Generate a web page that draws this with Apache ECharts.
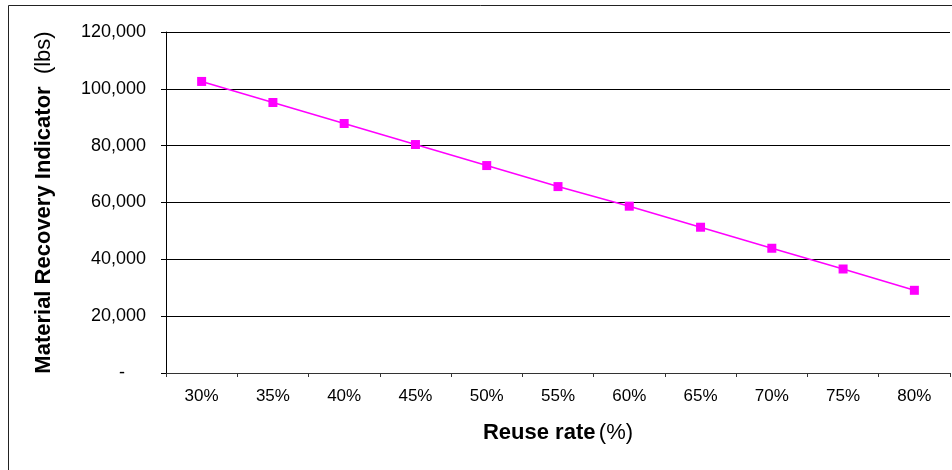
<!DOCTYPE html>
<html>
<head>
<meta charset="utf-8">
<script src="https://cdn.jsdelivr.net/npm/echarts@6/dist/echarts.min.js"></script>
<style>
html,body{margin:0;padding:0;background:#fff;}
#c{width:952px;height:470px;}
</style>
</head>
<body>
<div id="c"></div>
<script>
var categories = ['30%','35%','40%','45%','50%','55%','60%','65%','70%','75%','80%'];
var recovery = [102600, 95200, 87800, 80400, 73000, 65600, 58700, 51300, 43900, 36600, 29100];
var yTicks = [0, 20000, 40000, 60000, 80000, 100000, 120000];

var FONT = 'Arial, "Liberation Sans", sans-serif';
var chart = echarts.init(document.getElementById('c'), null, {renderer: 'canvas'});
chart.setOption({
  animation: false,
  backgroundColor: '#fff',
  graphic: [{
    type: 'rect', silent: true,
    shape: {x: 8.5, y: 5.5, width: 1000, height: 1000},
    style: {fill: 'none', stroke: '#222', lineWidth: 1}
  }],
  grid: {left: 166, top: 32, width: 784, height: 341, containLabel: false},
  xAxis: {
    type: 'category',
    data: categories,
    boundaryGap: true,
    name: '{b|Reuse rate} {n|(%)}',
    nameLocation: 'middle',
    nameGap: 49,
    nameTextStyle: {
      rich: {
        b: {fontFamily: FONT, fontSize: 22, fontWeight: 'bold', color: '#000'},
        n: {fontFamily: FONT, fontSize: 22, color: '#000'}
      }
    },
    axisLine: {lineStyle: {color: '#333', width: 1}},
    axisTick: {show: true, length: 4, lineStyle: {color: '#333'}},
    axisLabel: {fontFamily: FONT, fontSize: 17, color: '#000', margin: 15},
    splitLine: {show: false}
  },
  yAxis: {
    type: 'value',
    min: yTicks[0],
    max: yTicks[yTicks.length - 1],
    interval: yTicks[1] - yTicks[0],
    name: '{b|Material Recovery Indicator}{n|  (lbs)}',
    nameLocation: 'middle',
    nameRotate: 90,
    nameGap: 111,
    nameTextStyle: {
      rich: {
        b: {fontFamily: FONT, fontSize: 22, fontWeight: 'bold', color: '#000'},
        n: {fontFamily: FONT, fontSize: 22, color: '#000'}
      }
    },
    axisLine: {show: true, lineStyle: {color: '#000', width: 1}},
    axisTick: {show: true, length: 5, lineStyle: {color: '#000'}},
    axisLabel: {
      fontFamily: FONT, fontSize: 18, color: '#000', margin: 20,
      formatter: function (v) {
        if (v === 0) return '{d|-}';
        return v.toLocaleString('en-US');
      },
      rich: {
        d: {fontFamily: FONT, fontSize: 18, color: '#000', padding: [0, 21, 0, 0]}
      }
    },
    splitLine: {show: true, lineStyle: {color: '#000', width: 1}}
  },
  series: [{
    type: 'line',
    data: recovery,
    symbol: 'rect',
    symbolSize: 9,
    color: '#FF00FF',
    lineStyle: {color: '#FF00FF', width: 1.5},
    itemStyle: {color: '#FF00FF'}
  }]
});
</script>
</body>
</html>
